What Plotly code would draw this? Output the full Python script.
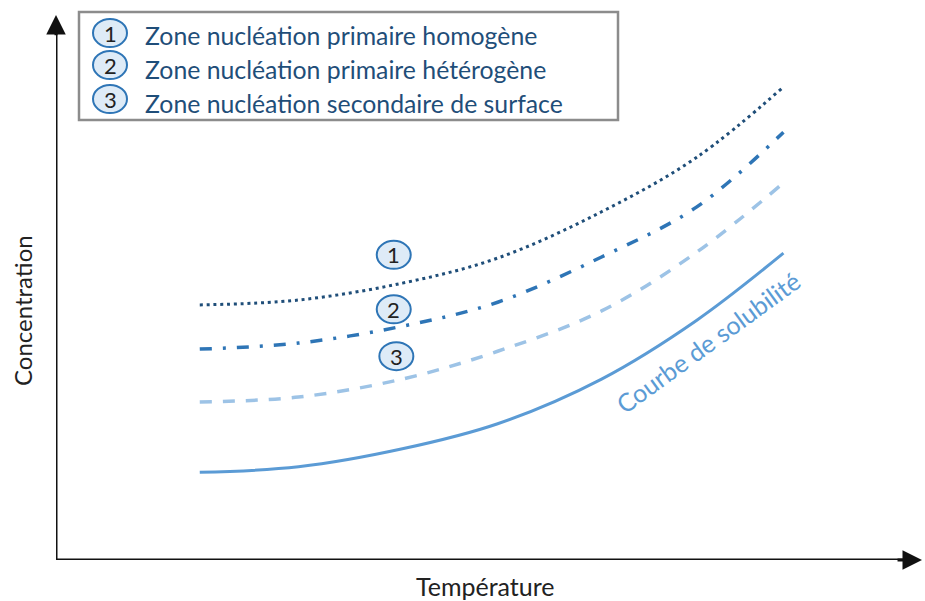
import plotly.graph_objects as go

# ---- data (arbitrary units: temperature 0-100, concentration 0-100) ----
temperature = [16.6, 28, 40, 51, 63, 74, 84]
solubilite = [16.1, 17.1, 20.4, 25.0, 33.2, 44.0, 56.3]
secondaire_surface = [29.0, 29.9, 33.2, 38.3, 45.7, 56.5, 69.2]
primaire_heterogene = [38.7, 39.8, 42.9, 47.3, 55.6, 64.8, 78.5]
primaire_homogene = [46.8, 47.7, 50.8, 55.4, 63.9, 73.9, 86.8]

zone_labels = ["Zone nucléation primaire homogène",
               "Zone nucléation primaire hétérogène",
               "Zone nucléation secondaire de surface"]
zone_numbers = ["1", "2", "3"]
zone_marker_T = [39.0, 39.0, 39.3]
zone_marker_C = [56.0, 46.0, 37.4]

# ---- layout geometry ----
W, H = 925, 601
L, R, T, B = 56, 3, 15, 41
PW, PH = W - L - R, H - T - B


def px(xp):
    return (xp - L) / PW


def py(yp):
    return (H - B - yp) / PH


FONT = "Lato, 'Open Sans', sans-serif"
fig = go.Figure()

fig.add_trace(go.Scatter(x=temperature, y=solubilite, mode="lines", line_shape="spline",
                         line=dict(color="#5B9BD5", width=3), hoverinfo="skip"))
fig.add_trace(go.Scatter(x=temperature, y=secondaire_surface, mode="lines", line_shape="spline",
                         line=dict(color="#9DC3E6", width=3.5, dash="12px,11px"), hoverinfo="skip"))
fig.add_trace(go.Scatter(x=temperature, y=primaire_heterogene, mode="lines", line_shape="spline",
                         line=dict(color="#2E75B6", width=3.5, dash="12px,11px,3px,11px"), hoverinfo="skip"))
fig.add_trace(go.Scatter(x=temperature, y=primaire_homogene, mode="lines", line_shape="spline",
                         line=dict(color="#1F4E79", width=3, dash="3px,3.8px"), hoverinfo="skip"))

shapes = []
annotations = []

# axes with arrows
shapes.append(dict(type="line", xref="x", yref="y", x0=0, y0=0, x1=98.5, y1=0,
                   line=dict(color="#111111", width=3)))
shapes.append(dict(type="line", xref="x", yref="y", x0=0, y0=0, x1=0, y1=97.5,
                   line=dict(color="#111111", width=3)))
annotations.append(dict(x=100, y=0, ax=97, ay=0, xref="x", yref="y", axref="x", ayref="y",
                        text="", showarrow=True, arrowhead=2, arrowsize=1.3, arrowwidth=3,
                        arrowcolor="#111111", standoff=0))
annotations.append(dict(x=0, y=100, ax=0, ay=96, xref="x", yref="y", axref="x", ayref="y",
                        text="", showarrow=True, arrowhead=2, arrowsize=1.3, arrowwidth=3,
                        arrowcolor="#111111", standoff=0))

# legend box
shapes.append(dict(type="rect", xref="paper", yref="paper", x0=px(79), x1=px(618),
                   y0=py(120), y1=py(12), line=dict(color="#8C8C8C", width=2.5),
                   fillcolor="white", layer="above"))
legend_cy = [33, 65, 99]
legend_ty = [36, 70, 103]
for i in range(3):
    cx, cy = 110, legend_cy[i]
    shapes.append(dict(type="circle", xref="paper", yref="paper", xsizemode="pixel",
                       ysizemode="pixel", xanchor=px(cx), yanchor=py(cy),
                       x0=-17, x1=17, y0=-14, y1=14, fillcolor="#DEEBF7",
                       line=dict(color="#2E75B6", width=2), layer="above"))
    annotations.append(dict(x=px(cx), y=py(cy), xref="paper", yref="paper", text=zone_numbers[i],
                            showarrow=False, font=dict(family=FONT, size=22, color="#222222"),
                            xanchor="center", yanchor="middle"))
    annotations.append(dict(x=px(143), y=py(legend_ty[i]), xref="paper", yref="paper",
                            text=zone_labels[i], showarrow=False,
                            font=dict(family=FONT, size=24.8, color="#1F4E79"),
                            xanchor="left", yanchor="middle"))

# zone markers on chart
for i in range(3):
    shapes.append(dict(type="circle", xref="x", yref="y", xsizemode="pixel", ysizemode="pixel",
                       xanchor=zone_marker_T[i], yanchor=zone_marker_C[i],
                       x0=-17, x1=17, y0=-14, y1=14, fillcolor="#DEEBF7",
                       line=dict(color="#2E75B6", width=2), layer="above"))
    annotations.append(dict(x=zone_marker_T[i], y=zone_marker_C[i], xref="x", yref="y",
                            text=zone_numbers[i], showarrow=False,
                            font=dict(family=FONT, size=22, color="#222222"),
                            xanchor="center", yanchor="middle"))

# curve label
annotations.append(dict(x=px(708), y=py(342), xref="paper", yref="paper",
                        text="Courbe de solubilité", showarrow=False, textangle=-36,
                        font=dict(family=FONT, size=25, color="#5B9BD5"),
                        xanchor="center", yanchor="middle"))

# axis titles
annotations.append(dict(x=px(485), y=py(586), xref="paper", yref="paper", text="Température",
                        showarrow=False, font=dict(family=FONT, size=25, color="#222222"),
                        xanchor="center", yanchor="middle"))
annotations.append(dict(x=px(22), y=py(311), xref="paper", yref="paper", text="Concentration",
                        showarrow=False, textangle=-90,
                        font=dict(family=FONT, size=24, color="#222222"),
                        xanchor="center", yanchor="middle"))

fig.update_layout(
    width=W, height=H,
    margin=dict(l=L, r=R, t=T, b=B),
    paper_bgcolor="white", plot_bgcolor="white",
    showlegend=False,
    xaxis=dict(range=[0, 100], visible=False, fixedrange=True),
    yaxis=dict(range=[0, 100], visible=False, fixedrange=True),
    shapes=shapes,
    annotations=annotations,
)

fig.write_html("out.html", config={"displayModeBar": False},
               post_script="document.body.style.margin='0px';document.body.style.overflow='hidden';")
